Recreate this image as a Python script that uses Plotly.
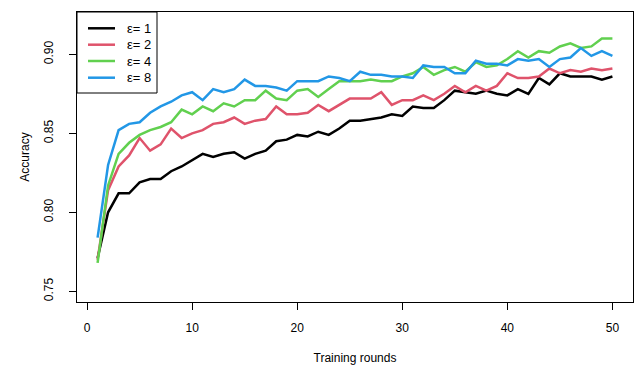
import plotly.graph_objects as go

rounds = list(range(1, 51))

eps_labels = ["ε= 1", "ε= 2", "ε= 4", "ε= 8"]

acc_eps1 = [0.771, 0.800, 0.812, 0.812, 0.819, 0.821, 0.821, 0.826, 0.829, 0.833,
            0.837, 0.835, 0.837, 0.838, 0.834, 0.837, 0.839, 0.845, 0.846, 0.849,
            0.848, 0.851, 0.849, 0.853, 0.858, 0.858, 0.859, 0.860, 0.862, 0.861,
            0.867, 0.866, 0.866, 0.871, 0.877, 0.876, 0.875, 0.877, 0.875, 0.874,
            0.878, 0.875, 0.885, 0.881, 0.888, 0.886, 0.886, 0.886, 0.884, 0.886]

acc_eps2 = [0.770, 0.814, 0.829, 0.836, 0.847, 0.839, 0.843, 0.853, 0.847, 0.850,
            0.852, 0.856, 0.857, 0.860, 0.856, 0.858, 0.859, 0.867, 0.862, 0.862,
            0.863, 0.868, 0.864, 0.868, 0.872, 0.872, 0.872, 0.876, 0.868, 0.871,
            0.871, 0.874, 0.871, 0.875, 0.880, 0.876, 0.880, 0.877, 0.880, 0.888,
            0.885, 0.885, 0.886, 0.891, 0.888, 0.890, 0.889, 0.891, 0.890, 0.891]

acc_eps4 = [0.768, 0.817, 0.837, 0.844, 0.849, 0.852, 0.854, 0.857, 0.865, 0.862,
            0.867, 0.864, 0.869, 0.867, 0.871, 0.871, 0.877, 0.872, 0.871, 0.877,
            0.878, 0.873, 0.878, 0.883, 0.883, 0.883, 0.884, 0.883, 0.883, 0.886,
            0.888, 0.892, 0.887, 0.890, 0.892, 0.889, 0.895, 0.892, 0.893, 0.897,
            0.902, 0.898, 0.902, 0.901, 0.905, 0.907, 0.904, 0.905, 0.910, 0.910]

acc_eps8 = [0.784, 0.830, 0.852, 0.856, 0.857, 0.863, 0.867, 0.870, 0.874, 0.876,
            0.871, 0.878, 0.876, 0.878, 0.884, 0.880, 0.880, 0.879, 0.877, 0.883,
            0.883, 0.883, 0.886, 0.885, 0.883, 0.889, 0.887, 0.887, 0.886, 0.886,
            0.885, 0.893, 0.892, 0.892, 0.888, 0.888, 0.896, 0.894, 0.894, 0.893,
            0.897, 0.896, 0.897, 0.892, 0.897, 0.898, 0.904, 0.899, 0.902, 0.899]

series = [acc_eps1, acc_eps2, acc_eps4, acc_eps8]
colors = ["#000000", "#DF536B", "#61D04F", "#2297E6"]

x_ticks = [0, 10, 20, 30, 40, 50]
y_ticks = [0.75, 0.80, 0.85, 0.90]

FONT = "Liberation Sans, Arial, Helvetica, sans-serif"

W, H = 638, 371
ML, MR, MT, MB = 77, 5, 12, 69
PW, PH = W - ML - MR, H - MT - MB


def px_x(p):
    return (p - ML) / PW


def px_y(p):
    return (H - MB - p) / PH


fig = go.Figure()
for name, ys, c in zip(eps_labels, series, colors):
    fig.add_trace(go.Scatter(x=rounds, y=ys, mode="lines", name=name,
                             line=dict(color=c, width=2.5), showlegend=False))

# R-style legend box in the top-left corner of the plot
shapes = [dict(type="rect", xref="paper", yref="paper",
               x0=0, x1=px_x(157), y0=px_y(93), y1=1,
               line=dict(color="#000000", width=1), fillcolor="white", layer="above")]
annotations = []
row_y = [28.3, 44.7, 61.0, 77.7]
for name, c, ry in zip(eps_labels, colors, row_y):
    shapes.append(dict(type="line", xref="paper", yref="paper",
                       x0=px_x(88), x1=px_x(115), y0=px_y(ry), y1=px_y(ry),
                       line=dict(color=c, width=2.5), layer="above"))
    annotations.append(dict(xref="paper", yref="paper", x=px_x(125), y=px_y(ry),
                            xanchor="left", yanchor="middle", showarrow=False,
                            text=name, font=dict(size=13, color="#000000")))

fig.update_layout(
    width=W, height=H,
    margin=dict(l=ML, r=MR, t=MT, b=MB, autoexpand=False),
    paper_bgcolor="white", plot_bgcolor="white",
    font=dict(family=FONT, size=12, color="#000000"),
    showlegend=False,
    shapes=shapes, annotations=annotations,
    xaxis=dict(range=[-0.96, 51.96], tickvals=x_ticks, ticktext=[str(v) for v in x_ticks],
               automargin=False,
               showgrid=False, zeroline=False, showline=True, linecolor="#000000",
               linewidth=1, mirror=True, ticks="outside", ticklen=7, tickcolor="#000000",
               ticklabelstandoff=8,
               title=dict(text="Training rounds", standoff=19, font=dict(size=12))),
    yaxis=dict(range=[0.7432, 0.9268], tickvals=y_ticks, automargin=False,
               ticktext=["0.75", "0.80", "0.85", "0.90"], tickangle=-90,
               showgrid=False, zeroline=False, showline=True, linecolor="#000000",
               linewidth=1, mirror=True, ticks="outside", ticklen=7, tickcolor="#000000",
               ticklabelstandoff=11,
               title=dict(text="Accuracy", standoff=10, font=dict(size=12))),
)

fig.write_html("out.html", config={"displayModeBar": False},
               post_script="document.body.style.margin='0px';document.body.style.overflow='hidden';")
